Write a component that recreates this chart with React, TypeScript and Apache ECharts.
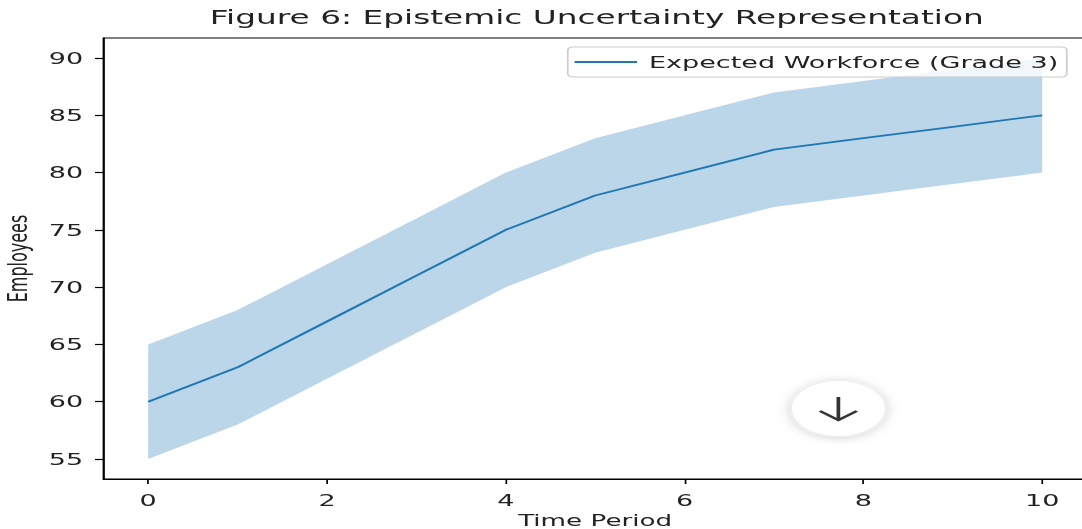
import React, { useEffect, useRef } from "react";
import * as echarts from "echarts";

const timePeriods = [0, 1, 2, 3, 4, 5, 6, 7, 8, 9, 10];
const expectedWorkforce = [60, 63, 67, 71, 75, 78, 80, 82, 83, 84, 85];
const lowerBound = [55, 58, 62, 66, 70, 73, 75, 77, 78, 79, 80];
const upperBound = [65, 68, 72, 76, 80, 83, 85, 87, 88, 89, 90];
const yTicks = [55, 60, 65, 70, 75, 80, 85, 90];
const xTicks = [0, 2, 4, 6, 8, 10];

const TITLE = "Figure 6: Epistemic Uncertainty Representation";
const SERIES_NAME = "Expected Workforce (Grade 3)";

// The reference is a horizontally stretched figure: render at 640px wide and stretch.
const RENDER_W = 640;
const RENDER_H = 529;
const SX = 1082 / RENDER_W;

const FONT = "DejaVu Sans";
const LINE_COLOR = "#1f77b4";
const BAND_COLOR = "rgba(31,119,180,0.3)";

export default function App() {
  const ref = useRef<HTMLDivElement>(null);

  useEffect(() => {
    document.body.style.margin = "0";
    if (!ref.current) return;
    const chart = echarts.init(ref.current, undefined, { renderer: "svg" });

    const lineData = timePeriods.map((x, i) => [x, expectedWorkforce[i]]);

    chart.setOption({
      animation: false,
      backgroundColor: "#ffffff",
      textStyle: { fontFamily: FONT },
      title: {
        text: TITLE,
        left: 124,
        top: 8,
        padding: 0,
        textStyle: { fontFamily: FONT, fontSize: 19.4, fontWeight: "normal", color: "#222" },
      },
      legend: {
        data: [{ name: SERIES_NAME, icon: "rect" }],
        right: 9,
        top: 47,
        padding: [7, 5, 7, 4],
        itemWidth: 37,
        itemHeight: 2,
        backgroundColor: "rgba(255,255,255,0.8)",
        borderColor: "#cccccc",
        borderWidth: 1,
        borderRadius: 3,
        textStyle: { fontFamily: FONT, fontSize: 16, color: "#222", padding: [0, 0, 0, 2] },
      },
      grid: {
        left: 61.2,
        top: 38,
        width: 581.7,
        height: 441,
        outerBoundsMode: "none",
        containLabel: false,
        show: true,
        borderColor: "#000",
        borderWidth: 1,
        backgroundColor: "transparent",
      },
      xAxis: {
        type: "value",
        min: -0.5,
        max: 10.5,
        name: "Time Period",
        nameLocation: "middle",
        nameGap: 31,
        nameTextStyle: { fontFamily: FONT, fontSize: 15.5, color: "#222" },
        axisLine: { show: true, onZero: false, lineStyle: { color: "#000", width: 1 } },
        splitLine: { show: false },
        axisTick: {
          show: true,
          inside: false,
          length: 5,
          customValues: xTicks,
          lineStyle: { color: "#000", width: 1 },
        },
        axisLabel: {
          customValues: xTicks,
          margin: 13,
          fontFamily: FONT,
          fontSize: 16,
          color: "#222",
        },
      },
      yAxis: {
        type: "value",
        position: "left",
        min: 53.25,
        max: 91.75,
        name: "Employees",
        nameLocation: "middle",
        nameGap: 40,
        nameTextStyle: { fontFamily: FONT, fontSize: 16, color: "#222" },
        axisLine: { show: true, onZero: false, lineStyle: { color: "#000", width: 1 } },
        splitLine: { show: false },
        axisTick: {
          show: true,
          inside: false,
          length: 5,
          customValues: yTicks,
          lineStyle: { color: "#000", width: 1.2 },
        },
        axisLabel: {
          customValues: yTicks,
          margin: 12,
          fontFamily: FONT,
          fontSize: 16,
          color: "#222",
        },
      },
      series: [
        {
          name: "band",
          type: "custom",
          silent: true,
          z: 1,
          data: [[0]],
          renderItem: (_params: any, api: any) => {
            const upperPts = timePeriods.map((x, i) => api.coord([x, upperBound[i]]));
            const lowerPts = timePeriods
              .map((x, i) => api.coord([x, lowerBound[i]]))
              .reverse();
            return {
              type: "polygon",
              shape: { points: upperPts.concat(lowerPts) },
              style: { fill: BAND_COLOR, stroke: "none" },
            };
          },
        },
        {
          name: SERIES_NAME,
          type: "line",
          data: lineData,
          symbol: "none",
          color: LINE_COLOR,
          lineStyle: { color: LINE_COLOR, width: 1.8 },
          z: 3,
        },
      ],
      graphic: [
        {
          type: "circle",
          shape: { cx: 495.9, cy: 408.5, r: 28 },
          style: {
            fill: "#ffffff",
            stroke: "#eeeeee",
            lineWidth: 1,
            shadowBlur: 8,
            shadowColor: "rgba(0,0,0,0.18)",
            shadowOffsetY: 1,
          },
          z: 100,
        },
        {
          type: "line",
          shape: { x1: 495.9, y1: 397, x2: 495.9, y2: 420 },
          style: { stroke: "#333", lineWidth: 2.2 },
          z: 101,
        },
        {
          type: "polyline",
          shape: { points: [[485, 411], [495.9, 420], [506.8, 411]] },
          style: { stroke: "#333", lineWidth: 2.2, fill: "none" },
          z: 101,
        },
      ],
    });

    return () => chart.dispose();
  }, []);

  return (
    <div
      ref={ref}
      style={{
        position: "absolute",
        left: 0,
        top: 0,
        width: RENDER_W,
        height: RENDER_H,
        transform: `scaleX(${SX})`,
        transformOrigin: "0 0",
        overflow: "hidden",
      }}
    />
  );
}
